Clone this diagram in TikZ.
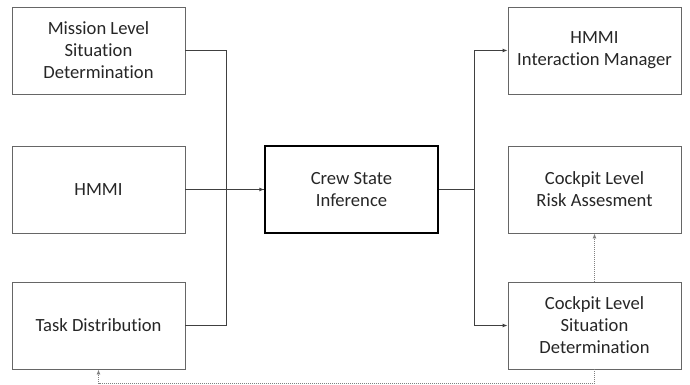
\documentclass[tikz,border=0pt]{standalone}
\usepackage{fontspec}
\setmainfont{Carlito}[Ligatures={NoCommon}]
\usetikzlibrary{arrows.meta}
\begin{document}
\begin{tikzpicture}[x=1pt,y=-1pt,
  box/.style={draw=black!60,line width=0.9pt,minimum width=173pt,minimum height=87pt,inner sep=2pt,align=center,font=\fontsize{18.6}{22}\selectfont,text=black!85},
  mainbox/.style={box,draw=black,line width=1.4pt},
  conn/.style={draw=black!75,line width=0.9pt},
  arr/.style={-{Latex[length=5pt,width=4pt]}},
  dot/.style={draw=black!50,line width=0.9pt,dash pattern=on 1pt off 1pt}]
\useasboundingbox (0,0) rectangle (690,385);
\node[box] (m1) at (98.5,50.5) {Mission Level\\Situation\\Determination};
\node[box] (hm) at (98.5,189.5) {HMMI};
\node[box] (td) at (98.5,325.5) {Task Distribution};
\node[mainbox] (cr) at (351.5,189.5) {Crew State\\Inference};
\node[box] (r1) at (594.5,50.5) {HMMI\\Interaction Manager};
\node[box] (r2) at (594.5,189.5) {Cockpit Level\\Risk Assesment};
\node[box] (r3) at (594.5,325.5) {Cockpit Level\\Situation\\Determination};
\coordinate (jl) at (226,189.5);
\coordinate (jr) at (474,189.5);
\coordinate (b1) at (594.5,383.5);
\coordinate (b2) at (98.5,383.5);
\draw[conn] (m1.east) -| (jl);
\draw[conn] (td.east) -| (jl);
\draw[conn] (jl) -- (cr.west);
\draw[conn,arr] (hm.east) -- (cr.west);
\draw[conn] (cr.east) -- (jr);
\draw[conn,arr] (jr) |- (r1.west);
\draw[conn,arr] (jr) |- (r3.west);
\draw[dot,arr] (r3.north) -- (r2.south);
\draw[dot,arr] (r3.south) -- (b1) -- (b2) -- (td.south);
\end{tikzpicture}
\end{document}
